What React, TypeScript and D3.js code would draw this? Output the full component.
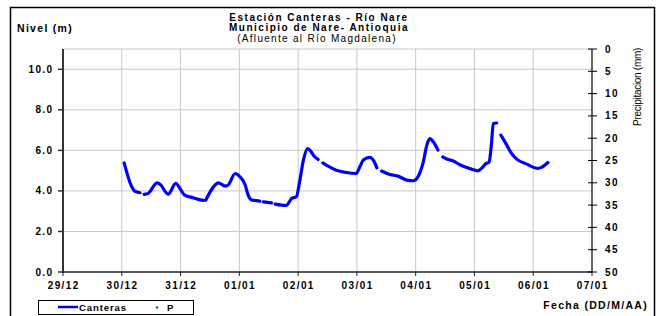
import React from "react";
import * as d3 from "d3";

// ---- data ----
const startDate = new Date(2016, 11, 29);
const endDate = new Date(2017, 0, 7);
const tickDays = [0, 1, 2, 3, 4, 5, 6, 7, 8, 9];
const nivelTicks = [0, 2, 4, 6, 8, 10];
const precipTicks = [0, 5, 10, 15, 20, 25, 30, 35, 40, 45, 50];

// days after 29/12 00:00 ; null level = gap in record
const dayOffset = [
  1.04, 1.17, 1.22, 1.31, 1.35,
  1.38, 1.45, 1.6, 1.65, 1.79, 1.92, 1.99, 2.07, 2.19, 2.3, 2.39, 2.41,
  2.43, 2.56, 2.64, 2.76, 2.81, 2.93, 3.01, 3.1, 3.15, 3.21, 3.35, 3.38,
  3.41, 3.55, 3.58,
  3.61, 3.8, 3.85, 3.89, 3.97, 4.03, 4.09, 4.16, 4.21, 4.26, 4.34, 4.38,
  4.42, 4.51, 4.65, 4.82, 4.99, 5.05, 5.11, 5.22, 5.31, 5.34, 5.38,
  5.42, 5.56, 5.7, 5.85, 5.96, 6.04, 6.13, 6.19, 6.24, 6.3, 6.38, 6.42,
  6.46, 6.55, 6.64, 6.75, 6.92, 7.06, 7.12, 7.18, 7.25, 7.29, 7.32, 7.38, 7.41,
  7.45, 7.55, 7.63, 7.72, 7.89, 8.08, 8.14, 8.25,
];
const nivel: (number | null)[] = [
  5.38, 4.2, 3.99, 3.91, null,
  3.83, 3.88, 4.4, 4.33, 3.84, 4.37, 4.12, 3.79, 3.68, 3.58, 3.53, null,
  3.55, 4.2, 4.4, 4.24, 4.29, 4.86, 4.7, 4.29, 3.79, 3.55, 3.5, null,
  3.46, 3.41, null,
  3.35, 3.28, 3.46, 3.63, 3.71, 4.53, 5.52, 6.09, 5.98, 5.76, 5.55, null,
  5.38, 5.22, 5.02, 4.91, 4.86, 5.19, 5.52, 5.65, 5.35, 5.14, null,
  4.98, 4.81, 4.73, 4.53, 4.5, 4.7, 5.43, 6.26, 6.58, 6.42, 6.01, null,
  5.68, 5.55, 5.48, 5.29, 5.1, 4.99, 5.11, 5.31, 5.43, 6.34, 7.32, 7.35, null,
  6.75, 6.26, 5.85, 5.57, 5.32, 5.11, 5.16, 5.4,
];

const FONT = "'Liberation Sans', Arial, sans-serif";
const DAY = 86400000;

export default function App() {
  const W = 658, H = 316;
  const L = 63, R = 592, T = 49, B = 272;
  const x = d3.scaleTime().domain([startDate, endDate]).range([L, R]);
  const y = d3.scaleLinear().domain([0, 11]).range([B, T]);
  const yp = d3.scaleLinear().domain([0, 50]).range([T, B]);
  const fmt = d3.timeFormat("%d/%m");
  const t = (d: number) => new Date(startDate.getTime() + d * DAY);

  const idx = d3.range(dayOffset.length);
  const line = d3
    .line<number>()
    .defined((i) => nivel[i] != null)
    .x((i) => x(t(dayOffset[i])))
    .y((i) => y(nivel[i] as number))
    .curve(d3.curveMonotoneX);

  const grid = "#c8c8c8";
  const wide = { letterSpacing: "1.4px" };
  return (
    <svg
      width={W}
      height={H}
      style={{ position: "absolute", left: 0, top: 0, background: "#fff" }}
      fontFamily={FONT}
    >
      <rect x={10.5} y={7.5} width={644} height={320} fill="none" stroke="#000" strokeWidth={1.5} />

      {/* titles */}
      <text x={319} y={21} textAnchor="middle" fontSize={10} fontWeight="bold" style={{ letterSpacing: "1.5px" }}>Estación Canteras - Río Nare</text>
      <text x={319} y={31} textAnchor="middle" fontSize={10} fontWeight="bold" style={{ letterSpacing: "1.5px" }}>Municipio de Nare- Antioquia</text>
      <text x={317} y={41.5} textAnchor="middle" fontSize={10} style={{ letterSpacing: "1.3px" }}>(Afluente al Río Magdalena)</text>
      <text x={17} y={32} fontSize={10.5} fontWeight="bold" style={{ letterSpacing: "1.3px" }}>Nivel (m)</text>

      {/* grid */}
      {nivelTicks.filter((v) => v > 0).concat([11]).map((v) => (
        <line key={"h" + v} x1={L} x2={R} y1={y(v)} y2={y(v)} stroke={grid} strokeWidth={1} />
      ))}
      {tickDays.filter((d) => d > 0 && d < 9).map((d) => (
        <line key={"v" + d} x1={x(t(d))} x2={x(t(d))} y1={T} y2={B} stroke={grid} strokeWidth={1} />
      ))}

      {/* left axis */}
      <line x1={L} x2={L} y1={T} y2={B + 1} stroke="#333" strokeWidth={2} />
      {nivelTicks.map((v) => (
        <g key={"yl" + v}>
          <line x1={L - 5} x2={L} y1={y(v)} y2={y(v)} stroke="#333" strokeWidth={1.5} />
          <text x={53.5} y={y(v) + 3.5} textAnchor="end" fontSize={10} fontWeight="bold" style={wide}>{v.toFixed(1)}</text>
        </g>
      ))}

      {/* bottom axis */}
      <line x1={L} x2={R} y1={B} y2={B} stroke="#222" strokeWidth={1.5} />
      {tickDays.map((d) => (
        <g key={"xt" + d}>
          <line x1={x(t(d))} x2={x(t(d))} y1={B} y2={B + 4} stroke="#222" strokeWidth={1} />
          <text x={x(t(d)) + 0.7} y={289} textAnchor="middle" fontSize={10} fontWeight="bold" style={wide}>{fmt(t(d))}</text>
        </g>
      ))}

      {/* right axis */}
      <line x1={R} x2={R} y1={T} y2={B} stroke="#000" strokeWidth={1.2} />
      {precipTicks.map((v) => (
        <g key={"yr" + v}>
          <line x1={R - 4} x2={R + 5} y1={yp(v)} y2={yp(v)} stroke="#000" strokeWidth={1} />
          <text x={605} y={yp(v) + 3.5} fontSize={10} fontWeight="bold" style={wide}>{v}</text>
        </g>
      ))}
      <text
        transform="translate(641,87) rotate(-90)"
        textAnchor="middle"
        fontSize={10}
        style={{ letterSpacing: "-0.3px" }}
      >
        Precipitacion (mm)
      </text>

      {/* series */}
      <path d={line(idx) || ""} fill="none" stroke="#0000ff" strokeWidth={3.2} strokeLinejoin="round" strokeLinecap="round" />

      <text x={648} y={309} textAnchor="end" fontSize={10.5} fontWeight="bold" style={{ letterSpacing: "1.3px" }}>Fecha (DD/M/AA)</text>

      {/* legend */}
      <rect x={38.5} y={300.5} width={155} height={14} fill="#fff" stroke="#000" strokeWidth={1} />
      <line x1={58} x2={78} y1={307} y2={307} stroke="#0000ff" strokeWidth={2.5} />
      <text x={79} y={310.5} fontSize={9.5} fontWeight="bold" style={{ letterSpacing: "0.9px" }}>Canteras</text>
      <circle cx={157} cy={307.5} r={1.2} fill="#008000" />
      <text x={167} y={310.5} fontSize={9.5} fontWeight="bold">P</text>
    </svg>
  );
}
